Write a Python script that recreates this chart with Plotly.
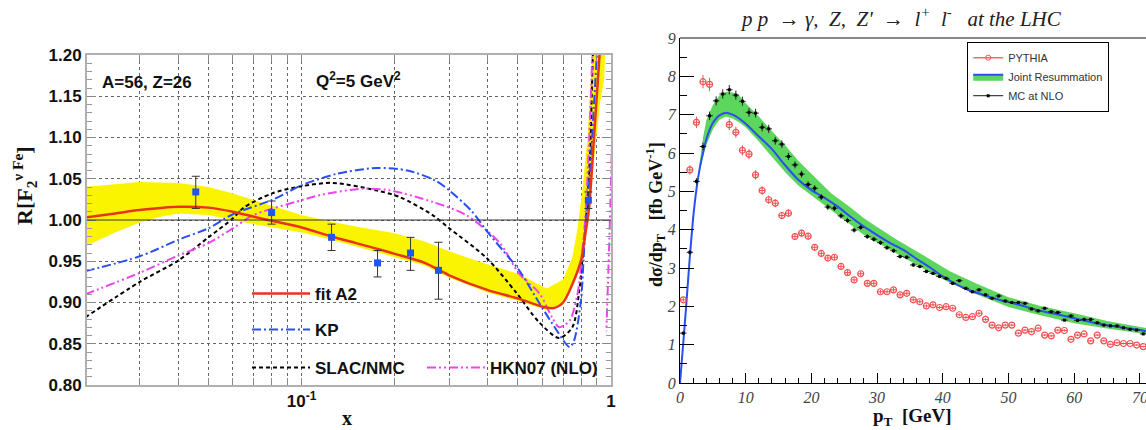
import plotly.graph_objects as go

W, H = 1146, 430
def px(x): return x / W
def py(y): return 1 - y / H

# ---------------- left panel: R[F2] for A=56, Z=26 ----------------
fit_x = [0.02, 0.025, 0.03, 0.04, 0.05, 0.06, 0.07, 0.08, 0.1, 0.125, 0.15, 0.176, 0.2, 0.25, 0.3, 0.4, 0.5, 0.6, 0.65, 0.7, 0.75, 0.8, 0.83, 0.85, 0.88, 0.91, 0.93]
fit_y = [1.003, 1.008, 1.012, 1.016, 1.015, 1.010, 1.004, 0.999, 0.991, 0.980, 0.972, 0.965, 0.959, 0.948, 0.933, 0.915, 0.905, 0.895, 0.893, 0.900, 0.922, 0.951, 0.988, 1.016, 1.097, 1.178, 1.23]

band_up_x = [0.02, 0.03, 0.04, 0.05, 0.06, 0.07, 0.08, 0.1, 0.125, 0.15, 0.2, 0.25, 0.3, 0.34, 0.4, 0.5, 0.62, 0.7, 0.75, 0.78, 0.81, 0.84, 0.87, 0.9]
band_up_y = [1.040, 1.046, 1.045, 1.040, 1.032, 1.024, 1.018, 1.006, 0.998, 0.992, 0.984, 0.974, 0.962, 0.955, 0.946, 0.935, 0.917, 0.928, 0.955, 0.99, 1.04, 1.10, 1.20, 1.25]
band_lo_x = [0.02, 0.025, 0.03, 0.035, 0.04, 0.05, 0.06, 0.07, 0.08, 0.1, 0.125, 0.15, 0.2, 0.25, 0.3, 0.4, 0.5, 0.62, 0.7, 0.75, 0.8, 0.85, 0.88, 0.92, 0.95, 0.97]
band_lo_y = [0.968, 0.985, 0.997, 1.004, 1.008, 1.006, 1.000, 0.995, 0.991, 0.985, 0.976, 0.968, 0.955, 0.945, 0.930, 0.912, 0.902, 0.891, 0.897, 0.918, 0.948, 1.005, 1.07, 1.14, 1.17, 1.25]

kp_x = [0.02, 0.03, 0.04, 0.05, 0.06, 0.08, 0.1, 0.13, 0.175, 0.22, 0.27, 0.30, 0.356, 0.40, 0.45, 0.505, 0.587, 0.645, 0.735, 0.76, 0.8, 0.815, 0.83, 0.855, 0.88, 0.9, 0.92]
kp_y = [0.938, 0.956, 0.976, 0.990, 1.007, 1.024, 1.042, 1.056, 1.063, 1.060, 1.048, 1.036, 1.010, 0.985, 0.962, 0.939, 0.899, 0.875, 0.846, 0.854, 0.903, 0.951, 1.000, 1.057, 1.137, 1.20, 1.27]

slac_x = [0.02, 0.03, 0.04, 0.05, 0.06, 0.065, 0.08, 0.1, 0.126, 0.174, 0.207, 0.265, 0.3, 0.396, 0.494, 0.586, 0.68, 0.75, 0.79, 0.815, 0.83, 0.855, 0.87, 0.88]
slac_y = [0.882, 0.925, 0.951, 0.979, 1.002, 1.015, 1.032, 1.041, 1.045, 1.036, 1.028, 1.006, 0.990, 0.954, 0.912, 0.876, 0.857, 0.870, 0.915, 0.967, 1.000, 1.077, 1.178, 1.25]

hkn_x = [0.02, 0.03, 0.04, 0.05, 0.06, 0.07, 0.1, 0.114, 0.157, 0.192, 0.265, 0.34, 0.435, 0.505, 0.587, 0.645, 0.68, 0.735, 0.78, 0.81, 0.825, 0.85, 0.87, 0.9, 0.965, 0.966]
hkn_y = [0.910, 0.936, 0.957, 0.972, 0.990, 1.006, 1.024, 1.030, 1.038, 1.036, 1.022, 1.006, 0.973, 0.935, 0.911, 0.882, 0.870, 0.878, 0.911, 0.967, 1.000, 1.097, 1.20, 1.40, 1.40, 0.865]

data_x = [0.0455, 0.08, 0.125, 0.176, 0.225, 0.277, 0.845]
data_y = [1.034, 1.009, 0.979, 0.948, 0.960, 0.939, 1.024]
data_err_plus = [0.019, 0.014, 0.016, 0.015, 0.019, 0.034, 0.010]
data_err_minus = [0.020, 0.014, 0.016, 0.017, 0.021, 0.035, 0.010]

x_major_vals = [0.1, 1.0]
x_major_text = ["10<sup>-1</sup>", "1"]
x_minor_vals = [0.02, 0.03, 0.04, 0.05, 0.06, 0.07, 0.08, 0.09, 0.2, 0.3, 0.4, 0.5, 0.6, 0.7, 0.8, 0.9]

# ---------------- right panel: dsigma/dpT at the LHC ----------------
pythia_pt = [0.5, 1.5, 2.5, 3.5, 4.5] + [i + 0.5 for i in range(7, 71)]
pythia_val = [2.17, 5.56, 6.80, 7.86, 7.79,
              6.74, 6.54, 6.07, 5.97, 5.43, 5.02, 4.78, 4.69, 4.37, 4.43,
              3.82, 3.91, 3.83, 3.54, 3.38, 3.26, 3.28, 3.04, 2.88, 2.69,
              2.85, 2.60, 2.60, 2.38, 2.38, 2.43, 2.30, 2.34, 2.17, 2.12,
              2.01, 2.04, 1.97, 1.99, 1.95, 1.78, 1.71, 1.73, 1.82, 1.66,
              1.51, 1.44, 1.51, 1.51, 1.30, 1.38, 1.34, 1.43, 1.25, 1.23,
              1.38, 1.37, 1.14, 1.25, 1.28, 1.10, 1.25, 1.10, 1.01, 1.05,
              1.03, 1.03, 0.99, 0.95]

mc_pt = [i + 0.5 for i in range(71)]
mc_val = [1.30, 3.41, 5.26, 6.17, 6.97, 7.36, 7.54, 7.65, 7.51, 7.35,
          7.06, 7.04, 6.67, 6.63, 6.32, 6.23, 5.91, 5.69, 5.45, 5.18,
          5.08, 4.85, 4.59, 4.56, 4.36, 4.24, 3.99, 4.06, 3.82, 3.75,
          3.66, 3.53, 3.45, 3.30, 3.28, 3.08, 3.04, 2.91, 2.86, 2.78,
          2.73, 2.60, 2.67, 2.47, 2.38, 2.43, 2.30, 2.21, 2.27, 2.14,
          2.10, 2.10, 2.08, 1.93, 1.88, 1.95, 1.86, 1.84, 1.64, 1.75,
          1.63, 1.66, 1.66, 1.57, 1.51, 1.49, 1.49, 1.44, 1.40, 1.38,
          1.28]

js_pt = [0, 0.5, 1.0, 1.5, 2.0, 2.5, 3.0, 3.5, 4.0, 4.5, 5.0, 5.5, 6.0, 7.0, 8.0, 9.0, 10.0, 12.0, 14.0, 16.0, 18.0, 20.0, 22.0, 24.0, 26.0, 28.0, 30.0, 32.0, 34.0, 36.0, 38.0, 40.0, 42.0, 44.0, 46.0, 48.0, 50.0, 52.0, 54.0, 56.0, 58.0, 60.0, 62.0, 64.0, 66.0, 68.0, 70.0, 71.0]
js_val = [0.0, 1.05, 2.15, 3.3, 4.3, 5.05, 5.6, 6.0, 6.35, 6.6, 6.78, 6.9, 6.98, 7.05, 7.0, 6.9, 6.76, 6.43, 6.1, 5.68, 5.3, 5.03, 4.83, 4.6, 4.33, 4.08, 3.86, 3.65, 3.47, 3.24, 3.02, 2.78, 2.58, 2.42, 2.31, 2.2, 2.11, 2.02, 1.92, 1.84, 1.77, 1.69, 1.61, 1.54, 1.48, 1.43, 1.38, 1.35]

band_pt = [3.0, 3.5, 4.0, 5.0, 6.0, 7.0, 8.0, 9.0, 10.0, 12.0, 14.0, 16.0, 18.0, 20.0, 23.0, 26.0, 28.0, 30.0, 33.0, 36.0, 38.5, 41.0, 45.0, 50.0, 55.0, 60.0, 65.0, 70.0, 71.0]
band_lo = [5.5, 5.9, 6.2, 6.62, 6.87, 6.95, 6.9, 6.8, 6.67, 6.3, 5.9, 5.5, 5.15, 4.88, 4.5, 4.12, 3.86, 3.65, 3.36, 3.08, 2.84, 2.62, 2.32, 1.98, 1.76, 1.56, 1.42, 1.30, 1.28]
band_hi = [5.75, 6.4, 6.85, 7.25, 7.5, 7.6, 7.58, 7.5, 7.3, 6.95, 6.57, 6.2, 5.8, 5.45, 4.95, 4.57, 4.3, 4.07, 3.74, 3.44, 3.17, 2.92, 2.6, 2.24, 2.0, 1.82, 1.62, 1.46, 1.43]

SANS = "Liberation Sans"
SERIF = "Liberation Serif"
RED = "#e8341c"
BLUE = "#2a4ff0"
MAG = "#ee44ee"
GREEN = "#5cd65c"
NB = "\u00a0"

fig = go.Figure()

# left panel traces
fig.add_trace(go.Scatter(x=band_up_x + band_lo_x[::-1], y=band_up_y + band_lo_y[::-1],
                         fill="toself", fillcolor="#fbf400", mode="lines", line=dict(width=0),
                         showlegend=False, hoverinfo="skip", xaxis="x", yaxis="y"))
fig.add_trace(go.Scatter(x=slac_x, y=slac_y, mode="lines", name="SLAC/NMC",
                         line=dict(color="black", width=2, dash="4px,3px", shape="spline", smoothing=0.8),
                         legend="legend3", xaxis="x", yaxis="y"))
fig.add_trace(go.Scatter(x=hkn_x, y=hkn_y, mode="lines", name="HKN07 (NLO)",
                         line=dict(color=MAG, width=2, dash="9px,3px,2px,3px,2px,3px", shape="spline", smoothing=0.8),
                         legend="legend4", xaxis="x", yaxis="y"))
fig.add_trace(go.Scatter(x=kp_x, y=kp_y, mode="lines", name="KP",
                         line=dict(color=BLUE, width=2, dash="9px,3px,2px,3px", shape="spline", smoothing=0.8),
                         legend="legend2", xaxis="x", yaxis="y"))
fig.add_trace(go.Scatter(x=fit_x, y=fit_y, mode="lines", name="fit A2",
                         line=dict(color=RED, width=2.5, shape="spline", smoothing=0.8),
                         legend="legend", xaxis="x", yaxis="y"))
fig.add_trace(go.Scatter(x=data_x, y=data_y, mode="markers", showlegend=False,
                         marker=dict(symbol="square", size=7, color="#1f55f0"),
                         error_y=dict(type="data", array=data_err_plus, arrayminus=data_err_minus,
                                      color="#333333", thickness=1, width=4),
                         xaxis="x", yaxis="y"))

# right panel traces
fig.add_trace(go.Scatter(x=band_pt + band_pt[::-1], y=band_hi + band_lo[::-1],
                         fill="toself", fillcolor=GREEN, mode="lines", line=dict(width=0),
                         showlegend=False, hoverinfo="skip", xaxis="x2", yaxis="y2"))
fig.add_trace(go.Scatter(x=js_pt, y=js_val, mode="lines", showlegend=False,
                         line=dict(color=BLUE, width=2, shape="spline", smoothing=0.6),
                         xaxis="x2", yaxis="y2"))
fig.add_trace(go.Scatter(x=pythia_pt, y=pythia_val, mode="markers", showlegend=False,
                         marker=dict(symbol="circle-open", size=6, color="#f05050", line=dict(width=1.2)),
                         error_x=dict(type="constant", value=0.45, color="#f05050", thickness=1, width=0),
                         error_y=dict(type="percent", value=2.2, color="#f05050", thickness=1, width=0),
                         xaxis="x2", yaxis="y2"))
fig.add_trace(go.Scatter(x=mc_pt, y=mc_val, mode="markers", showlegend=False,
                         marker=dict(symbol="square", size=3, color="black"),
                         error_x=dict(type="constant", value=0.5, color="#222222", thickness=1, width=0),
                         error_y=dict(type="percent", value=1.6, color="#222222", thickness=1, width=0),
                         xaxis="x2", yaxis="y2"))
# legend proxies (no data drawn)
fig.add_trace(go.Scatter(x=[None], y=[None], mode="lines+markers", name="PYTHIA",
                         line=dict(color="#f07070", width=1.5),
                         marker=dict(symbol="circle-open", size=5, color="#f05050"),
                         legend="legend5", xaxis="x2", yaxis="y2"))
fig.add_trace(go.Scatter(x=[None], y=[None], mode="lines", name="Joint Resummation",
                         fill="toself", fillcolor=GREEN, line=dict(color=BLUE, width=2),
                         legend="legend5", xaxis="x2", yaxis="y2"))
fig.add_trace(go.Scatter(x=[None], y=[None], mode="lines+markers", name="MC at NLO",
                         line=dict(color="#444444", width=1.2),
                         marker=dict(symbol="square", size=3, color="black"),
                         legend="legend5", xaxis="x2", yaxis="y2"))

left_leg_font = dict(family=SANS, size=17, color="#111111", weight="bold")
leg_common = dict(bgcolor="rgba(0,0,0,0)", borderwidth=0, font=left_leg_font,
                  xanchor="left", yanchor="middle", itemwidth=58)

fig.update_layout(
    width=W, height=H, margin=dict(l=0, r=0, t=0, b=0, pad=0, autoexpand=False),
    paper_bgcolor="white", plot_bgcolor="white",
    font=dict(family=SANS, color="black"),
    xaxis=dict(type="log", domain=[px(87), px(611)], range=[-1.6935, 0.0], automargin=False,
               tickvals=x_major_vals, ticktext=x_major_text, tickangle=0, ticklabeloverflow="allow",
               tickfont=dict(family=SANS, size=17, color="#111111", weight="bold"),
               showgrid=True, gridcolor="#666666", griddash="dot", gridwidth=1,
               showline=True, linecolor="#b0b0b0", linewidth=2, mirror="allticks",
               ticks="inside", ticklen=7, tickcolor="#888888", zeroline=False,
               minor=dict(tickvals=x_minor_vals, ticks="inside", ticklen=7, tickcolor="#888888",
                          showgrid=True, gridcolor="#666666", griddash="dot", gridwidth=1)),
    yaxis=dict(domain=[py(385), py(55)], range=[0.80, 1.20], dtick=0.05, tickformat=".2f", automargin=False,
               tickfont=dict(family=SANS, size=17, color="#111111", weight="bold"),
               showgrid=True, gridcolor="#666666", griddash="dot", gridwidth=1,
               showline=True, linecolor="#b0b0b0", linewidth=2, mirror="allticks",
               ticks="inside", ticklen=9, tickcolor="#888888", zeroline=False,
               minor=dict(dtick=0.01, ticks="inside", ticklen=5, tickcolor="#999999", showgrid=False)),
    xaxis2=dict(domain=[px(680), 1.0], range=[0, 70.92], dtick=10, anchor="y2", automargin=False,
                tickangle=0, ticklabeloverflow="allow",
                tickfont=dict(family=SERIF, size=16, color="#444444", style="italic"),
                showgrid=False, showline=True, linecolor="black", linewidth=1.2,
                ticks="inside", ticklen=10, tickcolor="black", zeroline=False,
                minor=dict(dtick=2, ticks="inside", ticklen=5, tickcolor="black")),
    yaxis2=dict(domain=[py(383), py(38)], range=[0, 9], dtick=1, anchor="x2", automargin=False,
                tickfont=dict(family=SERIF, size=16, color="#444444", style="italic"),
                showgrid=False, showline=True, linecolor="black", linewidth=1.2,
                ticks="inside", ticklen=14, tickcolor="black", zeroline=False,
                minor=dict(dtick=0.5, ticks="inside", ticklen=7, tickcolor="black")),
    legend=dict(x=px(247), y=py(294), **leg_common),
    legend2=dict(x=px(247), y=py(330), **leg_common),
    legend3=dict(x=px(247), y=py(368), **leg_common),
    legend4=dict(x=px(422), y=py(368), **leg_common),
    legend5=dict(x=px(967), y=py(42), xanchor="left", yanchor="top",
                 bgcolor="white", bordercolor="black", borderwidth=1.2,
                 font=dict(family=SANS, size=11, color="#333333"),
                 itemwidth=30, tracegroupgap=0),
    shapes=[
        dict(type="line", xref="x domain", yref="y", x0=0, x1=1, y0=1.0, y1=1.0,
             line=dict(color="#333333", width=1), layer="above"),
        dict(type="line", xref="x2 domain", yref="y2 domain", x0=0, x1=1, y0=1, y1=1,
             line=dict(color="#888888", width=2), layer="above"),
    ],
    annotations=[
        dict(text="<b>A=56, Z=26</b>", x=px(100), y=py(82), xref="paper", yref="paper",
             xanchor="left", yanchor="middle", showarrow=False,
             font=dict(family=SANS, size=17, color="#111111")),
        dict(text="<b>Q<sup>2</sup>=5 GeV<sup>2</sup></b>", x=px(314), y=py(80), xref="paper", yref="paper",
             xanchor="left", yanchor="middle", showarrow=False,
             font=dict(family=SANS, size=17, color="#111111")),
        dict(text="<b>R[F<sub>2</sub><sup>ν Fe</sup>]</b>", x=px(25), y=py(186), xref="paper", yref="paper",
             xanchor="center", yanchor="middle", textangle=-90, showarrow=False,
             font=dict(family=SERIF, size=22, color="#111111")),
        dict(text="<b>x</b>", x=px(347), y=py(418), xref="paper", yref="paper",
             xanchor="center", yanchor="middle", showarrow=False,
             font=dict(family=SERIF, size=20, color="#111111")),
        dict(text=f"<i>p p {NB}→{NB}γ, {NB}Z, {NB}Z' {NB}→{NB} l<sup>+</sup> {NB}l<sup>-</sup> {NB}{NB}at the LHC</i>",
             x=px(901), y=py(18),
             xref="paper", yref="paper", xanchor="center", yanchor="middle", showarrow=False,
             font=dict(family=SERIF, size=21, color="#222222")),
        dict(text=f"<b>dσ/dp<sub>T</sub>{NB}{NB}{NB}[fb GeV<sup>-1</sup>]</b>", x=px(655), y=py(215), xref="paper", yref="paper",
             xanchor="center", yanchor="middle", textangle=-90, showarrow=False,
             font=dict(family=SERIF, size=18, color="#111111")),
        dict(text=f"<b>p<sub>T</sub>{NB}{NB}[GeV]</b>", x=px(912), y=py(417), xref="paper", yref="paper",
             xanchor="center", yanchor="middle", showarrow=False,
             font=dict(family=SERIF, size=19, color="#111111")),
    ],
)

fig.write_html("out.html", config={"displayModeBar": False},
               post_script="document.body.style.margin='0px';document.body.style.overflow='hidden';")
